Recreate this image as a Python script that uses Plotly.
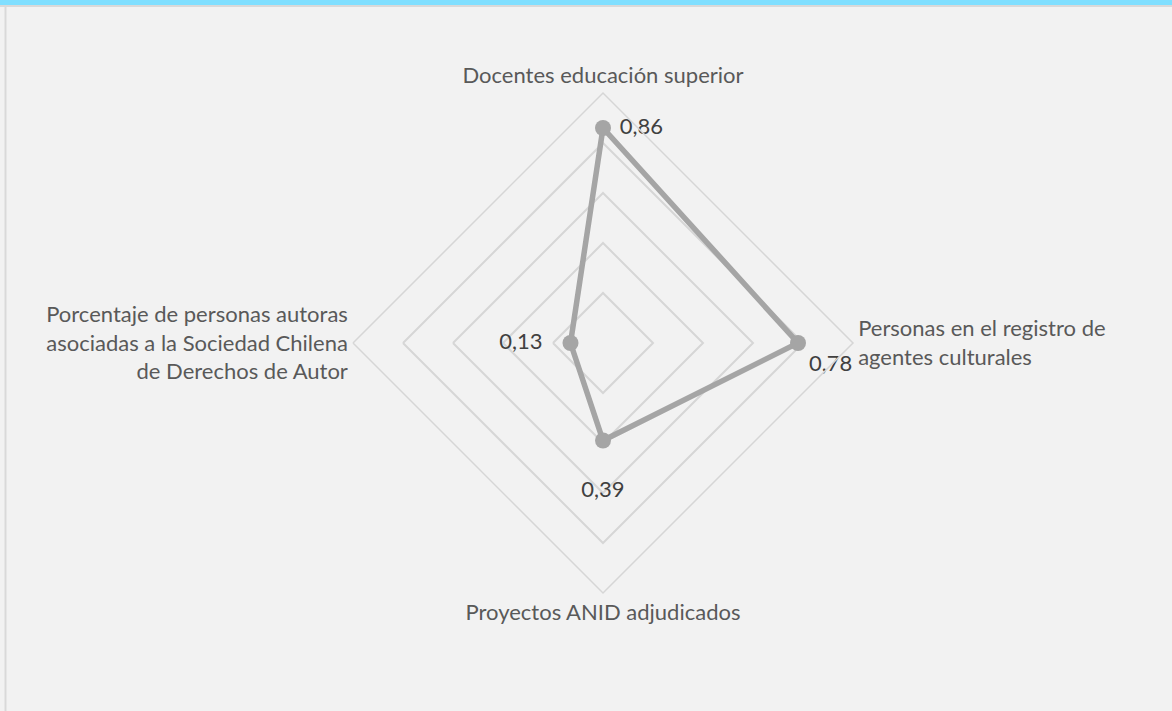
import plotly.graph_objects as go

categories = [
    "Docentes educación superior",
    "Personas en el registro de<br>agentes culturales",
    "Proyectos ANID adjudicados",
    "Porcentaje de personas autoras<br>asociadas a la Sociedad Chilena<br>de Derechos de Autor",
]
values = [0.86, 0.78, 0.39, 0.13]
label_positions = ["middle right", "bottom right", "bottom center", "middle left"]
label_templates = ["\u00a0%{r:.2f}", "%{r:.2f}", "<br>%{r:.2f}", "%{r:.2f}\u00a0\u00a0\u00a0"]

W, H = 1172, 711
FONT = "Lato, 'Open Sans', sans-serif"

fig = go.Figure()
fig.add_trace(go.Scatterpolar(
    r=values + values[:1],
    theta=categories + categories[:1],
    mode="lines",
    line=dict(color="#a5a5a5", width=5.5),
    hoverinfo="skip",
    showlegend=False,
))
fig.add_trace(go.Scatterpolar(
    r=values,
    theta=categories,
    mode="markers+text",
    marker=dict(color="#a5a5a5", size=16),
    texttemplate=label_templates,
    textposition=label_positions,
    textfont=dict(family=FONT, size=22, color="#404040"),
    showlegend=False,
))

cx, cy, R = 603, 343, 250
fig.update_layout(
    width=W, height=H,
    margin=dict(l=0, r=0, t=0, b=0),
    paper_bgcolor="#f2f2f2",
    plot_bgcolor="#f2f2f2",
    separators=",.",
    font=dict(family=FONT, size=22, color="#595959"),
    polar=dict(
        bgcolor="#f2f2f2",
        domain=dict(x=[(cx - R) / W, (cx + R) / W], y=[1 - (cy + R) / H, 1 - (cy - R) / H]),
        gridshape="linear",
        radialaxis=dict(range=[0, 1], dtick=0.2, showticklabels=False, ticks="",
                        showline=False, gridcolor="#d6d6d6", gridwidth=1.5),
        angularaxis=dict(rotation=90, direction="clockwise", showgrid=False, ticks="",
                         showline=True, linecolor="#d6d6d6", linewidth=1.5,
                         tickfont=dict(family=FONT, size=22, color="#595959")),
    ),
    shapes=[
        dict(type="rect", xref="paper", yref="paper", x0=0, x1=1, y0=1 - 5 / H, y1=1,
             fillcolor="#80dfff", line=dict(width=0), layer="above"),
        dict(type="line", xref="paper", yref="paper", x0=0, x1=1, y0=1 - 6 / H, y1=1 - 6 / H,
             line=dict(color="#d9d9d9", width=2)),
        dict(type="line", xref="paper", yref="paper", x0=5.5 / W, x1=5.5 / W, y0=0, y1=1 - 5 / H,
             line=dict(color="#d9d9d9", width=2)),
    ],
)

fig.write_html("out.html", config={"displayModeBar": False},
               post_script="document.body.style.margin='0';")
